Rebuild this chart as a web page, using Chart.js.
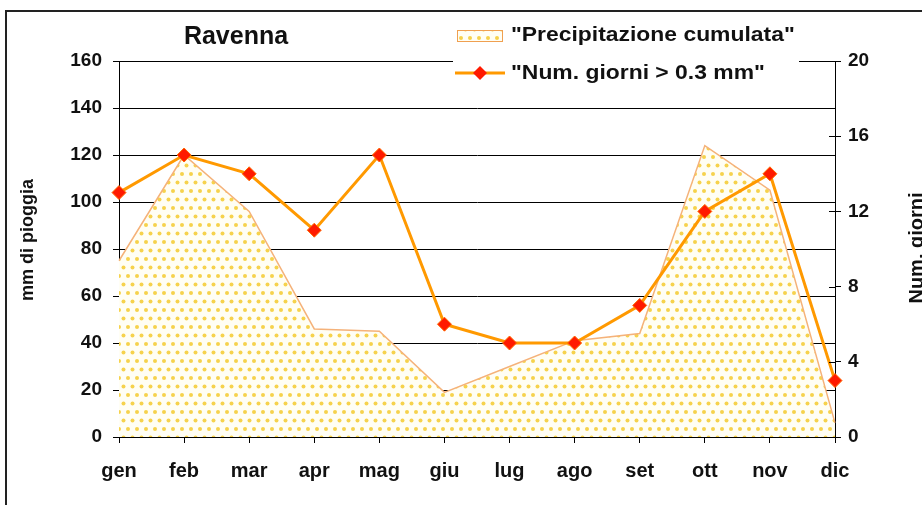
<!DOCTYPE html>
<html>
<head>
<meta charset="utf-8">
<script src="https://cdn.jsdelivr.net/npm/chart.js@4"></script>
<style>
  html, body { margin: 0; padding: 0; background: #fff; }
  #c { display: block; }
</style>
</head>
<body>
<canvas id="c" width="922" height="505"></canvas>
<script>
// Dati: Ravenna, medie mensili
var mesi = ['gen', 'feb', 'mar', 'apr', 'mag', 'giu', 'lug', 'ago', 'set', 'ott', 'nov', 'dic'];
var precipitazione = [75, 120, 96, 46, 45, 19, 30, 41, 44, 124, 105, 6];
var giorni = [13, 15, 14, 11, 15, 6, 5, 5, 7, 12, 14, 3];

// scale: min, max, passo
var scalaMm = [0, 160, 20];
var scalaGiorni = [0, 20, 4];

var FONT = "'Liberation Sans', Arial, sans-serif";
var canvas = document.getElementById('c');
var ctx0 = canvas.getContext('2d');

// dotted yellow fill like the old excel pattern
function makePattern() {
    var tile = document.createElement('canvas');
    tile.width = 9;
    tile.height = 17;
    var t = tile.getContext('2d');
    t.fillStyle = '#fffef4';
    t.fillRect(0, 0, 9, 17);
    t.fillStyle = '#f6d24c';
    t.beginPath(); t.arc(2, 4, 2, 0, Math.PI * 2); t.fill();
    t.beginPath(); t.arc(6.5, 12.5, 2, 0, Math.PI * 2); t.fill();
    return ctx0.createPattern(tile, 'repeat');
}
var puntini = makePattern();

var overlay = {
    id: 'overlay',
    beforeDraw: function (chart) {
        var ctx = chart.ctx;
        ctx.save();
        ctx.fillStyle = '#fff';
        ctx.fillRect(0, 0, chart.width, chart.height);
        ctx.restore();
    },
    afterDraw: function (chart) {
        var ctx = chart.ctx;
        var y1 = chart.scales.y1;
        ctx.save();

        // inner half of right axis ticks
        ctx.strokeStyle = '#000';
        ctx.lineWidth = 1;
        for (var v = scalaGiorni[0]; v <= scalaGiorni[1]; v += scalaGiorni[2]) {
            var py = Math.round(y1.getPixelForValue(v)) + 0.5;
            ctx.beginPath();
            ctx.moveTo(y1.left - 6, py);
            ctx.lineTo(y1.left, py);
            ctx.stroke();
        }

        // frame
        ctx.strokeStyle = '#222';
        ctx.lineWidth = 2;
        ctx.beginPath();
        ctx.moveTo(6, chart.height);
        ctx.lineTo(6, 11);
        ctx.lineTo(chart.width, 11);
        ctx.stroke();

        // title
        ctx.fillStyle = '#111';
        ctx.font = 'bold 25px ' + FONT;
        ctx.textAlign = 'center';
        ctx.textBaseline = 'middle';
        ctx.fillText('Ravenna', 236, 37);

        // legend
        ctx.fillStyle = '#fff';
        ctx.fillRect(453, 22, 346, 64);

        ctx.fillStyle = puntini;
        ctx.fillRect(457, 30, 46, 12);
        ctx.strokeStyle = '#f0a050';
        ctx.lineWidth = 1;
        ctx.strokeRect(457.5, 30.5, 45, 11);

        ctx.strokeStyle = '#ff9900';
        ctx.lineWidth = 3;
        ctx.beginPath();
        ctx.moveTo(455, 73);
        ctx.lineTo(505, 73);
        ctx.stroke();
        ctx.fillStyle = '#ff1a00';
        ctx.beginPath();
        ctx.moveTo(480, 66);
        ctx.lineTo(487, 73);
        ctx.lineTo(480, 80);
        ctx.lineTo(473, 73);
        ctx.closePath();
        ctx.fill();

        // legend text is a bit wider in the original
        ctx.fillStyle = '#111';
        ctx.font = 'bold 21px ' + FONT;
        ctx.textAlign = 'left';
        ctx.translate(511, 0);
        ctx.scale(1.09, 1);
        ctx.fillText('"Precipitazione cumulata"', 0, 35);
        ctx.fillText('"Num. giorni > 0.3 mm"', 0, 73);
        ctx.setTransform(1, 0, 0, 1, 0, 0);

        // axis titles
        ctx.font = 'bold 18px ' + FONT;
        ctx.textAlign = 'center';
        ctx.translate(28, 240);
        ctx.rotate(-Math.PI / 2);
        ctx.fillText('mm di pioggia', 0, 0);
        ctx.setTransform(1, 0, 0, 1, 0, 0);
        ctx.font = 'bold 20px ' + FONT;
        ctx.translate(917, 248);
        ctx.rotate(-Math.PI / 2);
        ctx.fillText('Num. giorni', 0, 0);
        ctx.restore();
    }
};

new Chart(canvas, {
    type: 'line',
    data: {
        labels: mesi,
        datasets: [{
            label: 'Num. giorni > 0.3 mm',
            data: giorni,
            yAxisID: 'y1',
            order: 0,
            borderColor: '#ff9900',
            borderWidth: 3,
            tension: 0,
            fill: false,
            pointStyle: 'rectRot',
            pointRadius: 7,
            pointBackgroundColor: '#ff1a00',
            pointBorderColor: '#ff6a00',
            pointBorderWidth: 1
        }, {
            label: 'Precipitazione cumulata',
            data: precipitazione,
            yAxisID: 'y',
            order: 1,
            borderColor: '#f5b27a',
            borderWidth: 1.5,
            backgroundColor: puntini,
            fill: 'origin',
            tension: 0,
            pointRadius: 0
        }]
    },
    options: {
        responsive: false,
        animation: false,
        events: [],
        layout: { padding: { top: 61, left: 0, right: 0, bottom: 0 } },
        plugins: {
            legend: { display: false },
            title: { display: false },
            tooltip: { enabled: false }
        },
        scales: {
            x: {
                offset: false,
                afterFit: function (s) { s.height = 68; },
                grid: { drawOnChartArea: false, color: '#000', tickLength: 6 },
                border: { color: '#000', width: 1 },
                ticks: {
                    color: '#111',
                    padding: 16,
                    maxRotation: 0,
                    autoSkip: false,
                    font: { family: FONT, size: 20, weight: 'bold' }
                }
            },
            y: {
                position: 'left',
                min: scalaMm[0],
                max: scalaMm[1],
                afterFit: function (s) { s.width = 119; },
                grid: { color: '#000', lineWidth: 1, tickLength: 6 },
                border: { color: '#000', width: 1 },
                ticks: {
                    stepSize: scalaMm[2],
                    color: '#111',
                    padding: 11,
                    font: { family: FONT, size: 19, weight: 'bold' }
                }
            },
            y1: {
                position: 'right',
                min: scalaGiorni[0],
                max: scalaGiorni[1],
                afterFit: function (s) { s.width = 87; },
                grid: { drawOnChartArea: false, color: '#000', tickLength: 6 },
                border: { color: '#000', width: 1 },
                ticks: {
                    stepSize: scalaGiorni[2],
                    color: '#111',
                    padding: 7,
                    font: { family: FONT, size: 19, weight: 'bold' }
                }
            }
        }
    },
    plugins: [overlay]
});
</script>
</body>
</html>
